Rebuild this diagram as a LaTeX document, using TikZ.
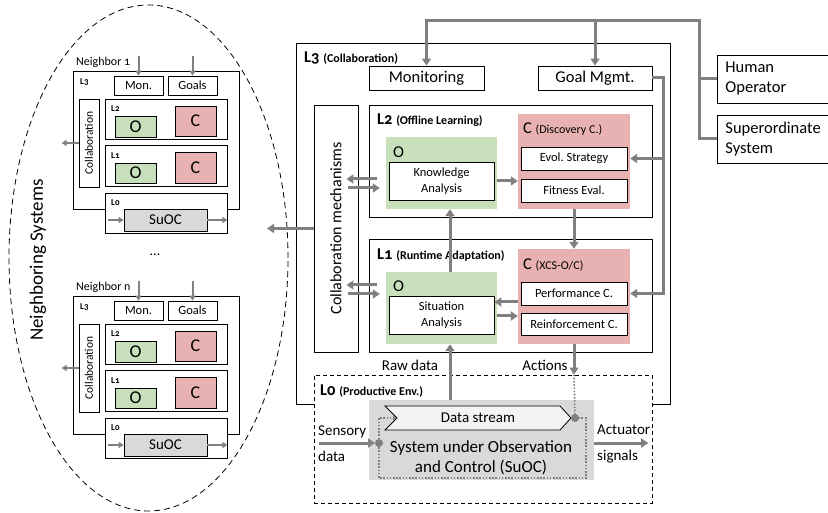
\documentclass[tikz,border=0pt]{standalone}
\usepackage{fontspec}
\setmainfont{Carlito}[Numbers=OldStyle]
\usetikzlibrary{arrows.meta}
\definecolor{lgray}{RGB}{128,128,128}
\definecolor{ogreen}{RGB}{200,223,188}
\definecolor{cred}{RGB}{233,178,178}
\definecolor{sgray}{RGB}{217,217,217}
\definecolor{dsfill}{RGB}{243,243,243}
\newcommand\fsz[2]{\fontsize{#1}{#2}\selectfont}
\frenchspacing
\begin{document}
\begin{tikzpicture}[x=1pt,y=-1pt,
  box/.style={draw=black, line width=0.9pt, fill=white, inner sep=0pt, align=center},
  nbox/.style={draw=black, line width=0.8pt, fill=white, inner sep=0pt},
  gline/.style={draw=lgray, line width=3pt},
  garrow/.style={gline, -{Triangle[length=7pt,width=9pt]}},
  narrow/.style={draw=lgray, line width=2pt, -{Triangle[length=5pt,width=6pt]}},
  dotg/.style={draw=lgray, line width=1.6pt, dash pattern=on 1.6pt off 1.6pt},
  ofill/.style={fill=ogreen, inner sep=0pt},
  cfill/.style={fill=cred, inner sep=0pt},
  lab/.style={inner sep=0pt, anchor=west},
  sublab/.style={inner sep=0pt, anchor=west, font={\fsz{9}{10}\bfseries}}]
\useasboundingbox (0,0) rectangle (828,513);

% ---------- neighbouring systems ----------
\draw[line width=0.8pt, dash pattern=on 6pt off 4pt] (148.5,258) ellipse [x radius=139.5pt, y radius=253pt];
\node[rotate=90, font={\fsz{19}{22}}] (nbtitle) at (38,260) {Neighboring Systems};
\node[font={\fsz{14}{16}}] (dots) at (155,255) {...};

\foreach \k/\dy/\nm in {a/0/1,b/225/n}{
\begin{scope}[shift={(0,\dy)}]
  \node[nbox, minimum width=166pt, minimum height=138pt] (\k-l3) at (156,140) {};
  \node[lab, font={\fsz{12}{14}}] (\k-name) at (76,62) {Neighbor \nm};
  \node[sublab] (\k-t3) at (80,82) {L3};
  \node[nbox, minimum width=49pt, minimum height=19pt, font={\fsz{12.5}{14}}] (\k-mon) at (138.5,85.5) {Mon.};
  \node[nbox, minimum width=49pt, minimum height=19pt, font={\fsz{12.5}{14}}] (\k-goal) at (192.5,85.5) {Goals};
  \node[nbox, minimum width=20pt, minimum height=88pt] (\k-col) at (89,143) {};
  \node[rotate=90, font={\fsz{11.5}{13}}] (\k-colt) at (\k-col) {Collaboration};
  \node[nbox, minimum width=122pt, minimum height=40pt] (\k-l2) at (166,119) {};
  \node[sublab] (\k-t2) at (111,109) {L2};
  \node[nbox, fill=ogreen, minimum width=41pt, minimum height=21pt, font={\fsz{18}{20}}] (\k-o2) at (135.5,126.5) {O};
  \node[nbox, fill=cred, minimum width=41pt, minimum height=30pt, font={\fsz{18}{20}}] (\k-c2) at (195.5,121) {C};
  \node[nbox, minimum width=122pt, minimum height=41pt] (\k-l1) at (166,165.5) {};
  \node[sublab] (\k-t1) at (111,156) {L1};
  \node[nbox, fill=ogreen, minimum width=41pt, minimum height=20pt, font={\fsz{18}{20}}] (\k-o1) at (135.5,173) {O};
  \node[nbox, fill=cred, minimum width=41pt, minimum height=31pt, font={\fsz{18}{20}}] (\k-c1) at (195.5,167.5) {C};
  \node[nbox, minimum width=122pt, minimum height=40pt] (\k-l0) at (166,213) {};
  \node[sublab] (\k-t0) at (111,203) {L0};
  \node[nbox, fill=sgray, minimum width=83pt, minimum height=22pt, font={\fsz{15}{17}}] (\k-suoc) at (165.5,220) {SuOC};
  \draw[narrow] ([yshift=20pt]\k-mon.north) -- (\k-mon.north);
  \draw[narrow] ([yshift=20pt]\k-goal.north) -- (\k-goal.north);
  \draw[narrow] (\k-col.west) -- ++(-17,0);
  \draw[narrow] ([xshift=3pt]\k-l0.west |- \k-suoc.west) -- (\k-suoc.west);
  \draw[narrow] (\k-suoc.east) -- (\k-l0.east |- \k-suoc.east);
\end{scope}}

% ---------- external actors ----------
\node[box, anchor=west, minimum height=48pt, text width=130pt, inner xsep=8pt, align=left, font={\fsz{16.5}{20}}] (hum) at (717,79) {Human\\Operator};
\node[box, anchor=west, minimum height=48pt, text width=130pt, inner xsep=8pt, align=left, font={\fsz{16.5}{20}}] (sup) at (717,139) {Superordinate\\System};

% ---------- L3 collaboration layer ----------
\node[box, minimum width=374pt, minimum height=361pt] (l3) at (483,223.5) {};
\node[lab] (t3) at (304,58) {\fsz{16.5}{18}\bfseries L3 \fsz{12}{14}(Collaboration)};
\node[box, minimum width=115pt, minimum height=24pt, font={\fsz{16.5}{18}}] (mon) at (426.5,78) {Monitoring};
\node[box, minimum width=114pt, minimum height=24pt, font={\fsz{16.5}{18}}] (gm) at (595,78) {Goal Mgmt.};
\node[box, minimum width=44pt, minimum height=247pt] (col) at (336,228.5) {};
\node[rotate=90, font={\fsz{16}{18}}] (colt) at (col) {Collaboration mechanisms};

% ---------- L2 offline learning ----------
\node[box, minimum width=283pt, minimum height=112pt] (l2) at (510.5,161) {};
\node[lab] (t2) at (377,120) {\fsz{16.5}{18}\bfseries L2 \fsz{12}{14}(Offline Learning)};
\node[ofill, minimum width=111pt, minimum height=72pt] (o2) at (441.5,173) {};
\node[lab, font={\fsz{16.5}{18}}] (o2t) at (393,152) {O};
\node[box, minimum width=105pt, minimum height=38pt, font={\fsz{12.5}{16}}] (ka) at (441.5,181) {Knowledge\\Analysis};
\node[cfill, minimum width=112pt, minimum height=95pt] (c2) at (574,161.5) {};
\node[lab] (c2t) at (523,129) {\fsz{16.5}{18}C \fsz{12}{14}(Discovery C.)};
\node[box, minimum width=106pt, minimum height=23pt, font={\fsz{12.5}{14}}] (evol) at (574,158.5) {Evol. Strategy};
\node[box, minimum width=106pt, minimum height=23pt, font={\fsz{12.5}{14}}] (fit) at (574,190.5) {Fitness Eval.};

% ---------- L1 runtime adaptation ----------
\node[box, minimum width=283pt, minimum height=113pt] (l1) at (510.5,295.5) {};
\node[lab] (t1) at (377,255) {\fsz{16.5}{18}\bfseries L1 \fsz{12}{14}(Runtime Adaptation)};
\node[ofill, minimum width=111pt, minimum height=72pt] (o1) at (441.5,308) {};
\node[lab, font={\fsz{16.5}{18}}] (o1t) at (393,286) {O};
\node[box, minimum width=105pt, minimum height=38pt, font={\fsz{12.5}{16}}] (sa) at (441.5,315) {Situation\\Analysis};
\node[cfill, minimum width=112pt, minimum height=95pt] (c1) at (574,296.5) {};
\node[lab] (c1t) at (523,265) {\fsz{16.5}{18}C \fsz{12}{14}(XCS-O/C)};
\node[box, minimum width=106pt, minimum height=23pt, font={\fsz{12.5}{14}}] (perf) at (574,293.5) {Performance C.};
\node[box, minimum width=106pt, minimum height=22pt, font={\fsz{12.5}{14}}] (rein) at (574,324) {Reinforcement C.};

% ---------- L0 productive environment ----------
\node[box, dash pattern=on 4pt off 3pt, minimum width=338pt, minimum height=128pt] (l0) at (483,439) {};
\node[lab] (t0) at (320,391) {\fsz{16.5}{18}\bfseries L0 \fsz{12}{14}(Productive Env.)};
\node[fill=sgray, inner sep=0pt, minimum width=225pt, minimum height=80pt] (suoc) at (481.5,440) {};
\draw[line width=0.8pt, fill=dsfill] (385,406) -- (560,406) -- (571,418) -- (560,430) -- (385,430) -- (397,418) -- cycle;
\node[font={\fsz{15}{17}}] (ds) at (478,418) {Data stream};
\node[font={\fsz{17}{20}}, align=center] (suoct) at (481,458) {System under Observation\\and Control (SuOC)};
\coordinate (dsin) at (397,418);
\coordinate (pout) at (575,418);
\coordinate (pin) at (379,443);
\draw[dotg, -{Triangle[length=4pt,width=5pt]}] (pout) -- (586,418) -- (586,478) -- (379,478) -- (379,418) -- (dsin);
\fill[lgray] (pout) circle (4pt);
\fill[lgray] (pin) circle (4pt);

\node[lab, align=left, font={\fsz{15}{26}}] (senst) at (318,444) {Sensory\\data};
\node[lab, align=left, font={\fsz{15}{26}}] (actt) at (597,444) {Actuator\\signals};
\node[font={\fsz{15}{17}}] (rawt) at (410,365) {Raw data};
\node[font={\fsz{15}{17}}] (actionst) at (545,365) {Actions};

% ---------- connectors ----------
\coordinate (bus) at (699,21);
\coordinate (fb) at (663,78);
\coordinate (rawx) at (450,0);
\coordinate (nbin) at (267,228.5);
\coordinate (sensL) at (319,443);

\draw[garrow] (sup.west) -| (bus) -| (mon.north);
\draw[gline] (hum.west) -- (hum.west -| bus);
\draw[garrow] (bus -| gm.north) -- (gm.north);
\draw[garrow] (gm.east) -- (fb) |- (c1.east |- perf.east);
\draw[garrow] (fb |- evol.east) -- (c2.east |- evol.east);

\draw[garrow] (col.west) -- (nbin);
\draw[garrow] ([xshift=-9pt]o2.west |- 0,179) -- ([xshift=-12pt]col.east |- 0,179);
\draw[garrow] ([xshift=-10pt]col.east |- 0,188) -- ([xshift=-6pt]o2.west |- 0,188);
\draw[garrow] ([xshift=-9pt]o1.west |- 0,285) -- ([xshift=-12pt]col.east |- 0,285);
\draw[garrow] ([xshift=-10pt]col.east |- 0,294) -- ([xshift=-6pt]o1.west |- 0,294);

\draw[garrow] (o2.east |- ka.east) -- (c2.west |- ka.east);
\draw[garrow] (c1.west |- 0,302) -- (sa.east |- 0,302);
\draw[garrow] (o1.east |- 0,316) -- (c1.west |- 0,316);

\draw[garrow] (o1.north -| rawx) -- (o2.south -| rawx);
\draw[garrow] (c2.south) -- (c1.north);
\draw[garrow] (suoc.north -| rawx) -- (o1.south -| rawx);
\draw[garrow] (c1.south) -- (c1.south |- l0.north);
\draw[dotg] (c1.south |- l0.north) -- (pout);

\draw[garrow, shorten >=4pt] (sensL) -- (pin);
\draw[garrow] (suoc.east |- pin) -- ++(54,0);
\end{tikzpicture}
\end{document}
